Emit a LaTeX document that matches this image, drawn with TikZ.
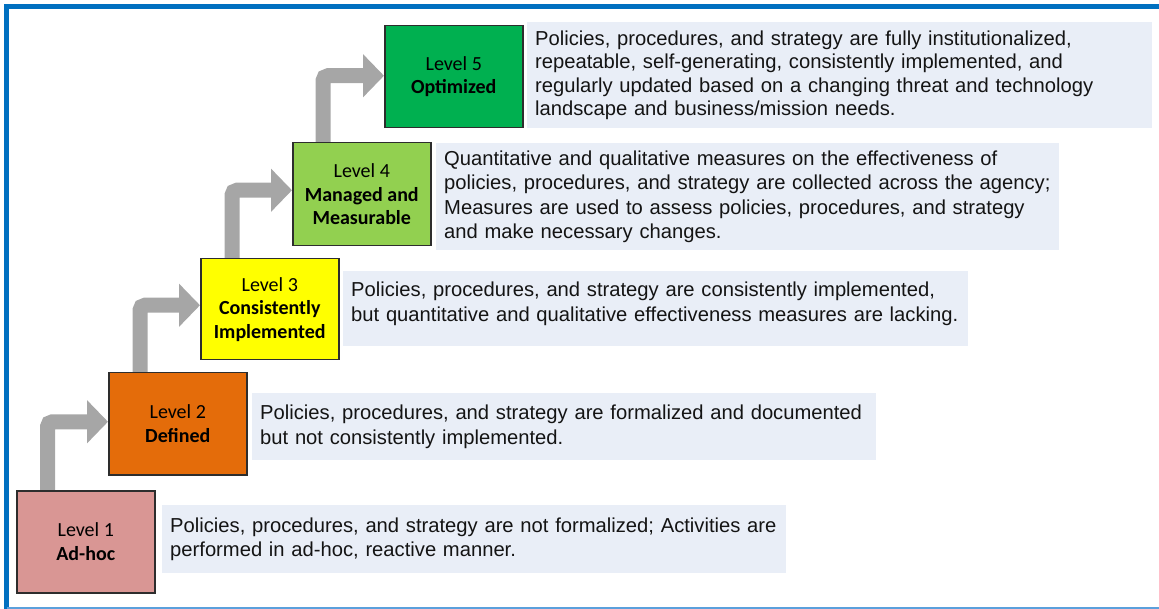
\documentclass[tikz,border=0pt]{standalone}
\usepackage{fontspec}
\setmainfont{Liberation Sans}
\newfontfamily\lvlfont{Carlito}
\usetikzlibrary{arrows.meta,backgrounds}

\definecolor{framblue}{RGB}{0,112,192}
\definecolor{framlight}{RGB}{91,160,220}
\definecolor{descbg}{RGB}{233,238,247}
\definecolor{desctext}{RGB}{20,20,20}
\definecolor{stairgray}{RGB}{166,166,166}
\definecolor{boxline}{RGB}{45,45,45}
\definecolor{lvlone}{RGB}{217,150,148}
\definecolor{lvltwo}{RGB}{228,108,10}
\definecolor{lvlthree}{RGB}{255,255,0}
\definecolor{lvlfour}{RGB}{146,208,80}
\definecolor{lvlfive}{RGB}{0,176,80}

\tikzset{
  lvlbox/.style={draw=boxline, line width=1.5pt, anchor=north west, align=center,
    minimum width=138pt, minimum height=102pt, inner sep=0pt, text=black,
    font=\lvlfont\fontsize{20}{23.5}\selectfont},
  descbox/.style={fill=descbg, anchor=north west, align=left, inner xsep=8pt,
    inner ysep=0pt, text=desctext, font=\fontsize{20.2}{24.5}\selectfont},
  stair/.style={draw=stairgray, line width=15pt, rounded corners=5pt,
    -{Triangle[width=42pt,length=21pt]}}
}

\begin{document}
\begin{tikzpicture}[x=1pt,y=1pt,yscale=-1,xscale=1]
\useasboundingbox (0,0) rectangle (1159,609);

%Frame
\draw [framblue, line width=5pt] (1159,6.5) -- (6.5,6.5) -- (6.5,609);
\draw [framlight, line width=2pt] (6.5,607.5) -- (1159,607.5);

%Level boxes
\node [lvlbox, fill=lvlone] (l1) at (16,490) {Level 1\\\textbf{Ad-hoc}};
\node [lvlbox, fill=lvltwo] (l2) at (108,372) {Level 2\\\textbf{Defined}};
\node [lvlbox, fill=lvlthree, minimum height=101pt] (l3) at (200,258) {Level 3\\\textbf{Consistently}\\\textbf{Implemented}};
\node [lvlbox, fill=lvlfour, minimum height=103pt] (l4) at (292,142) {Level 4\\\textbf{Managed and}\\\textbf{Measurable}};
\node [lvlbox, fill=lvlfive] (l5) at (384,25) {Level 5\\\textbf{Optimized}};

%Descriptions
\node [descbox, text width=608pt, minimum height=68pt] (d1) at (162,505)
  {Policies, procedures, and strategy are not formalized; Activities are\\
   performed in ad-hoc, reactive manner.};
\node [descbox, text width=608pt, minimum height=67pt] (d2) at (252,393)
  {Policies, procedures, and strategy are formalized and documented\\
   but not consistently implemented.};
\node [descbox, text width=609pt, minimum height=75pt] (d3) at (343,271)
  {Policies, procedures, and strategy are consistently implemented,\\
   but quantitative and qualitative effectiveness measures are lacking.\\[-10pt]\mbox{}};
\node [descbox, text width=607pt, minimum height=107pt] (d4) at (436,143)
  {Quantitative and qualitative measures on the effectiveness of\\
   policies, procedures, and strategy are collected across the agency;\\
   Measures are used to assess policies, procedures, and strategy\\
   and make necessary changes.};
\node [descbox, text width=609pt, minimum height=106pt,
  font=\fontsize{20.2}{23.3}\selectfont] (d5) at (527,22)
  {Policies, procedures, and strategy are fully institutionalized,\\
   repeatable, self-generating, consistently implemented, and\\
   regularly updated based on a changing threat and technology\\
   landscape and business/mission needs.};

%Stair arrows
\begin{scope}[on background layer]
\draw [stair] ([xshift=31.5pt]l1.north west) |- ([yshift=-2pt]l2.west);
\draw [stair] ([xshift=32pt]l2.north west) |- ([yshift=-4pt]l3.west);
\draw [stair] ([xshift=32pt]l3.north west) |- ([yshift=-4pt]l4.west);
\draw [stair] ([xshift=31pt]l4.north west) |- ([yshift=-1pt]l5.west);
\end{scope}

\end{tikzpicture}
\end{document}
